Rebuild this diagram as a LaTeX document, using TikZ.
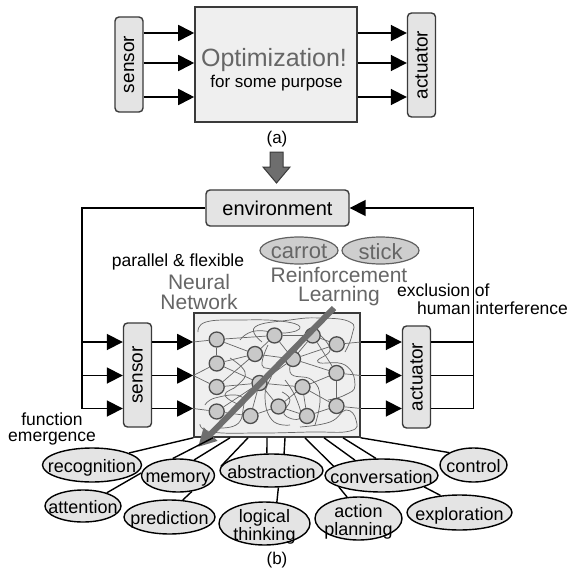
\documentclass[tikz,border=0pt]{standalone}
\usepackage{fontspec}
\setmainfont{Liberation Sans}
\usepackage{xcolor}
\usepackage{tikz}
\usetikzlibrary{arrows.meta,shapes.geometric}

\definecolor{boxfill}{HTML}{EFEFEF}
\definecolor{unitfill}{HTML}{E4E4E4}
\definecolor{edgegray}{HTML}{3A3A3A}
\definecolor{textgray}{HTML}{666666}
\definecolor{cellfill}{HTML}{C9C9C9}
\definecolor{rlgray}{HTML}{6E6E6E}

\newcommand{\fsz}[2]{\fontsize{#1}{#2}\selectfont}
% label of zero width, so the ellipse keeps its own size
\newcommand{\funclabel}[1]{\makebox[0pt]{\raisebox{-0.3em}{\begin{tabular}{@{}c@{}}#1\end{tabular}}}}

\tikzset{
  unitbox/.style={draw=edgegray, fill=unitfill, line width=1.4pt, rounded corners=4pt,
    inner sep=0pt, minimum width=28, font=\fsz{19}{19}},
  mainbox/.style={draw=edgegray, fill=boxfill, line width=1.6pt, inner sep=0pt},
  funcnode/.style={ellipse, draw=black, fill=unitfill, line width=1.4pt, inner sep=0pt,
    text height=0.5em, text depth=0pt, font=\fsz{18}{15}},
  rewardnode/.style={ellipse, draw=edgegray!80, fill=cellfill!90, line width=1.2pt, inner sep=0pt,
    text height=0.5em, text depth=0pt, text=textgray, font=\fsz{22}{22}},
  neuron/.style={circle, draw=edgegray!90, fill=cellfill, line width=1.3pt, minimum size=15, inner sep=0pt},
  wire/.style={line width=1.8pt, black},
  sig/.style={wire, -{Triangle[length=16pt,width=16pt]}},
  netwire/.style={draw=black!60, line width=0.7pt},
  graytext/.style={text=textgray, align=center},
}

\begin{document}
\begin{tikzpicture}[x=1pt, y=-1pt]
  \path[use as bounding box, fill=white] (0,0) rectangle (571,575);

  % (a) optimisation between sensor and actuator
  \node[mainbox, minimum width=162, minimum height=115] (optbox) at (276,64.5) {};
  \node[graytext, font=\fsz{25}{25}] (opttitle) at (274,60) {Optimization!};
  \node[font=\fsz{17}{17}] (optsub) at (276.5,83.5) {for some purpose};
  \node[unitbox, minimum height=95] (sensA) at (129,64.5) {\rotatebox{90}{sensor}};
  \node[unitbox, minimum height=104] (actA) at (421.5,65) {\rotatebox{90}{actuator}};
  \foreach \y in {33,63,97} {
    \draw[sig] (sensA.east |- 0,\y) -- (optbox.west |- 0,\y);
    \draw[sig] (optbox.east |- 0,\y) -- (actA.west |- 0,\y);
  }
  \node[font=\fsz{17}{17}] (capa) at (277,139) {(a)};

  % block arrow down to (b)
  \draw[draw=edgegray, fill=rlgray, line width=1pt]
    (270,152) -- (283,152) -- (283,167) -- (290,167) -- (276.5,183) -- (263,167) -- (270,167) -- cycle;

  % (b) closed loop through the environment
  \node[unitbox, minimum width=143, minimum height=36, font=\fsz{20}{20}] (env) at (277.5,208) {environment};
  \node[mainbox, minimum width=166, minimum height=124] (nnbox) at (277,375) {};
  \node[unitbox, minimum height=104] (sensB) at (137.5,375) {\rotatebox{90}{sensor}};
  \node[unitbox, minimum height=102] (actB) at (416.5,377) {\rotatebox{90}{actuator}};
  \coordinate (lft) at (82,408.5);
  \coordinate (rgt) at (473.5,408.5);

  \draw[wire] (env.west) -| (lft);
  \draw[sig] (rgt) |- (env.east);
  \foreach \y in {342,375.5,408.5} {
    \draw[sig] (lft |- 0,\y) -- (sensB.west |- 0,\y);
    \draw[sig] (sensB.east |- 0,\y) -- (nnbox.west |- 0,\y);
    \draw[sig] (nnbox.east |- 0,\y) -- (actB.west |- 0,\y);
    \draw[wire] (actB.east |- 0,\y) -- (rgt |- 0,\y);
  }

  % recurrent wiring inside the network
  \begin{scope}[netwire, smooth, tension=0.8]
    \draw plot coordinates {(198,332) (206,322) (240,320) (280,321) (300,327) (285,333) (255,331) (240,340)};
    \draw plot coordinates {(262,342) (255,327) (290,320) (320,318) (350,322) (352,335) (345,352)};
    \draw plot coordinates {(200,424) (212,432) (260,433) (310,432) (350,431) (356,420) (346,410) (330,422) (300,427)};
    \draw plot coordinates {(205,405) (215,398) (240,396) (243,410) (236,425) (215,428)};
    \draw plot coordinates {(268,345) (262,365) (272,372) (265,395) (272,420) (290,425)};
    \draw plot coordinates {(300,345) (290,372) (312,380) (320,398) (315,425)};
    \draw plot coordinates {(320,335) (330,350) (318,362) (345,365) (355,385) (345,395) (328,400)};
    \draw plot coordinates {(230,358) (245,372) (238,385) (225,395) (240,405)};
    \draw plot coordinates {(282,392) (290,400) (284,414) (300,418) (296,398) (285,380)};
  \end{scope}

  % neurons
  \foreach \i/\px/\py in {1/216.7/339.5, 2/216.7/363.5, 3/216.7/387, 4/216.7/411.5,
      5/255/354, 6/259.5/383, 7/250.5/416, 8/274.5/335.5, 9/278.5/406.5,
      10/293/359, 11/312.7/335.5, 12/302.5/387, 13/307/416,
      14/336.7/344.3, 15/336.5/373, 16/336.5/406}
    \node[neuron] (n\i) at (\px,\py) {};
  \foreach \a/\b in {1/5, 1/8, 2/5, 2/6, 3/5, 3/6, 4/6, 4/7, 5/8, 5/10, 6/10, 6/12, 6/9,
      6/7, 7/9, 8/11, 8/10, 10/11, 10/14, 10/15, 11/14, 11/15, 12/15, 12/13, 12/16,
      9/13, 9/12, 13/16, 15/16, 1/2}
    \draw[netwire] (n\a) -- (n\b);
  \draw[netwire] (nnbox.west |- 0,342) -- (n1);
  \draw[netwire] (nnbox.west |- 0,375.5) -- (n2);
  \draw[netwire] (nnbox.west |- 0,375.5) -- (n3);
  \draw[netwire] (nnbox.west |- 0,408.5) -- (n4);
  \draw[netwire] (n14) -- (nnbox.east |- 0,342);
  \draw[netwire] (n15) -- (nnbox.east |- 0,375.5);
  \draw[netwire] (n16) -- (nnbox.east |- 0,408.5);

  % labels around the network
  \node[font=\fsz{17.5}{17.5}] (parflex) at (178,262) {parallel \& flexible};
  \node[graytext, font=\fsz{21}{20}] (nnlabel) at (199,292) {Neural\\Network};
  \node[rewardnode, minimum width=78, minimum height=27] (carrot) at (299,250.5) {\funclabel{carrot}};
  \node[rewardnode, minimum width=77, minimum height=27] (stick) at (380.5,250.5) {\funclabel{stick}};
  \node[graytext, font=\fsz{21}{19}] (rllabel) at (339,286.5) {Reinforcement\\Learning};
  \node[font=\fsz{17.5}{17.5}, anchor=west, inner sep=0pt] (excl) at (397,290) {exclusion of};
  \node[font=\fsz{17.5}{17.5}, anchor=west, inner sep=0pt] (human) at (417,308) {human interference};
  \node[font=\fsz{17.5}{16}, align=center, inner sep=0pt] (emerge) at (52,429) {function\\emergence};

  % learning acts across the network
  \coordinate (rltail) at (334,308);
  \coordinate (rltip) at (198,447);
  \draw[line width=6pt, rlgray, -{Triangle[length=18pt,width=18pt]}] (rltail) -- (rltip);

  % emerging functions
  \node[funcnode, minimum width=99, minimum height=34] (recog) at (92,465) {\funclabel{recognition}};
  \node[funcnode, minimum width=73, minimum height=33] (memory) at (178,475.5) {\funclabel{memory}};
  \node[funcnode, minimum width=103, minimum height=33] (abstr) at (271.5,470.5) {\funclabel{abstraction}};
  \node[funcnode, minimum width=113, minimum height=33] (conv) at (381.5,475.5) {\funclabel{conversation}};
  \node[funcnode, minimum width=67, minimum height=34] (control) at (473.5,465) {\funclabel{control}};
  \node[funcnode, minimum width=76, minimum height=32] (attn) at (83,506) {\funclabel{attention}};
  \node[funcnode, minimum width=91, minimum height=34] (predict) at (169.5,517) {\funclabel{prediction}};
  \node[funcnode, minimum width=91, minimum height=43] (logic) at (264.5,523.5) {\funclabel{logical\\thinking}};
  \node[funcnode, minimum width=87, minimum height=43] (actplan) at (358.5,518.5) {\funclabel{action\\planning}};
  \node[funcnode, minimum width=105, minimum height=35] (explore) at (459.5,512.5) {\funclabel{exploration}};

  % fan out from the network
  \draw[wire, line width=1.4pt] (nnbox.south west) -- (recog.18);
  \draw[wire, line width=1.4pt] (nnbox.south -| 213,0) -- (memory.107);
  \draw[wire, line width=1.4pt] (nnbox.south -| 230,0) -- (memory.44);
  \draw[wire, line width=1.4pt] (nnbox.south -| 248,0) -- (abstr.175);
  \draw[wire, line width=1.4pt] (nnbox.south -| 267,0) -- (abstr.105);
  \draw[wire, line width=1.4pt] (nnbox.south -| 285,0) -- (abstr.53);
  \draw[wire, line width=1.4pt] (nnbox.south -| 305,0) -- (conv.169);
  \draw[wire, line width=1.4pt] (nnbox.south -| 324,0) -- (conv.150);
  \draw[wire, line width=1.4pt] (nnbox.south -| 343,0) -- (conv.108);
  \draw[wire, line width=1.4pt] (nnbox.south east) -- (control.153);
  \draw[wire, line width=1.4pt] (attn.29) -- (memory.176);
  \draw[wire, line width=1.4pt] (predict.52) -- (memory.-49);
  \draw[wire, line width=1.4pt] (logic.60) -- (abstr.-68);
  \draw[wire, line width=1.4pt] (actplan.118) -- (conv.195);
  \draw[wire, line width=1.4pt] (explore.138) -- (conv.-15);

  \node[font=\fsz{17}{17}] (capb) at (277,560) {(b)};
\end{tikzpicture}
\end{document}
